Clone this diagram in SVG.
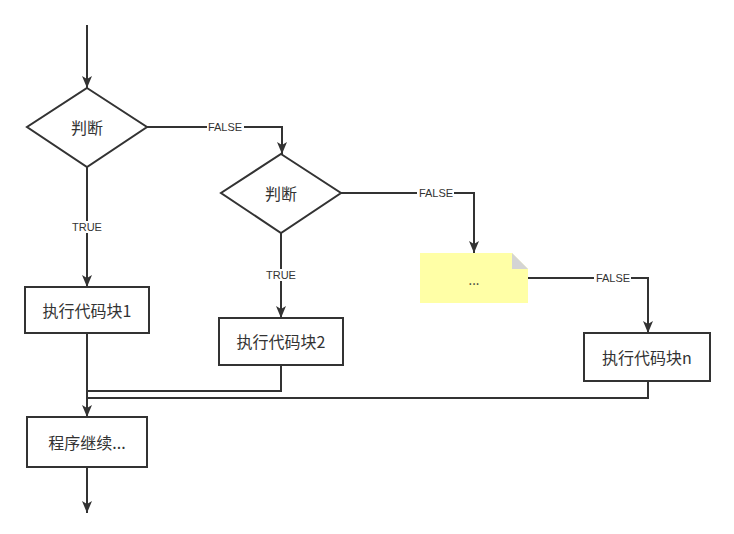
<svg xmlns="http://www.w3.org/2000/svg" width="734" height="534" viewBox="0 0 734 534">
<style>
.shape{fill:#fff;stroke:#333;stroke-width:2}
.edge{fill:none;stroke:#333;stroke-width:2}
.t{font-family:"Noto Sans CJK SC","Liberation Sans",sans-serif;font-size:16px;fill:#333;text-anchor:middle;dominant-baseline:central}
.lbl{font-family:"Liberation Sans","Noto Sans",sans-serif;font-size:11px;fill:#333;text-anchor:middle;dominant-baseline:central}
.bg{fill:#fff}
</style>
<defs>
<marker id="arr" viewBox="0 0 12 10" refX="12" refY="5" markerWidth="6" markerHeight="5" orient="auto" markerUnits="strokeWidth">
<path d="M0,0 L12,5 L0,10 L3,5 Z" fill="#333"/>
</marker>
</defs>
<rect width="734" height="534" fill="#fff"/>
<g id="connectors">
<path class="edge" d="M87,25 V88" marker-end="url(#arr)"/>
<path class="edge" d="M147,127 H282 V154" marker-end="url(#arr)"/>
<path class="edge" d="M87,167 V287" marker-end="url(#arr)"/>
<path class="edge" d="M341,193 H474 V253" marker-end="url(#arr)"/>
<path class="edge" d="M281,233 V318" marker-end="url(#arr)"/>
<path class="edge" d="M528,278 H648 V333" marker-end="url(#arr)"/>
<path class="edge" d="M87,333 V417" marker-end="url(#arr)"/>
<path class="edge" d="M281,365 V391 H87"/>
<path class="edge" d="M648,381 V398 H87"/>
<path class="edge" d="M87,467 V513" marker-end="url(#arr)"/>
<rect class="bg" x="207" y="121" width="37" height="12"/>
<text class="lbl" x="225" y="127">FALSE</text>
<rect class="bg" x="417" y="187" width="37" height="12"/>
<text class="lbl" x="436" y="193">FALSE</text>
<rect class="bg" x="594" y="272" width="37" height="12"/>
<text class="lbl" x="613" y="278">FALSE</text>
<rect class="bg" x="70" y="221" width="34" height="12"/>
<text class="lbl" x="87" y="227">TRUE</text>
<rect class="bg" x="264" y="269" width="34" height="12"/>
<text class="lbl" x="281" y="275">TRUE</text>
</g>
<g id="decision1">
<path class="shape" d="M87,88 L147,127 L87,167 L27,127 Z"/>
<text class="t" x="87" y="127">判断</text>
</g>
<g id="decision2">
<path class="shape" d="M281,154 L341,193 L281,233 L221,193 Z"/>
<text class="t" x="281" y="193">判断</text>
</g>
<g id="block1">
<rect class="shape" x="25" y="287" width="124" height="46"/>
<text class="t" x="87" y="310">执行代码块1</text>
</g>
<g id="block2">
<rect class="shape" x="219" y="318" width="124" height="47"/>
<text class="t" x="281" y="341">执行代码块2</text>
</g>
<g id="note">
<path d="M420,253 H512 L528,269 V303 H420 Z" fill="#ffffa6"/>
<path d="M512,253 L528,269 H512 Z" fill="#d4d4d4"/>
<text class="t" x="474" y="279" style="font-size:13px">...</text>
</g>
<g id="blockn">
<rect class="shape" x="584" y="333" width="126" height="48"/>
<text class="t" x="647" y="357">执行代码块n</text>
</g>
<g id="continue">
<rect class="shape" x="27" y="417" width="120" height="50"/>
<text class="t" x="87" y="442">程序继续...</text>
</g>
</svg>
